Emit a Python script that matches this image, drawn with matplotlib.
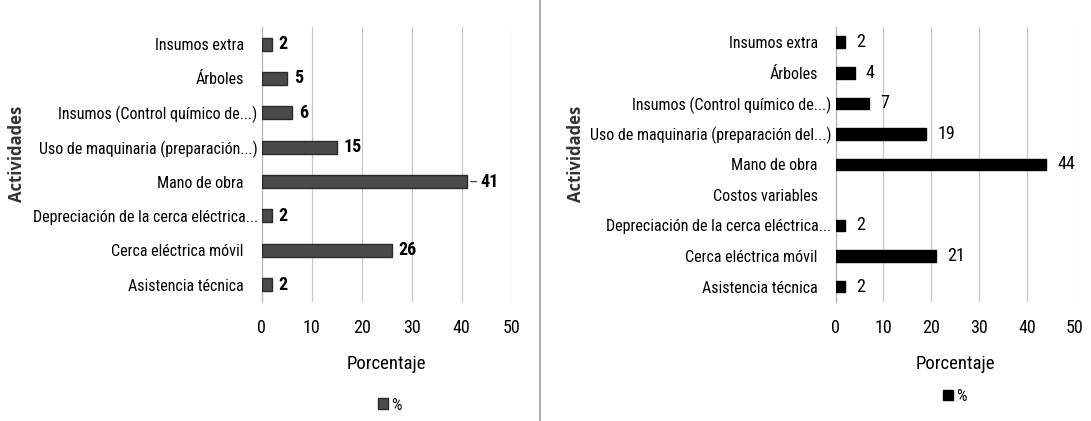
import matplotlib.pyplot as plt
from matplotlib.lines import Line2D

NARROW = ['Roboto Condensed', 'DejaVu Sans']
plt.rcParams['font.family'] = NARROW

# left chart (top to bottom)
cats_a = ['Insumos extra', 'Árboles', 'Insumos (Control químico de...)',
          'Uso de maquinaria (preparación...)', 'Mano de obra',
          'Depreciación de la cerca eléctrica...', 'Cerca eléctrica móvil',
          'Asistencia técnica']
vals_a = [2, 5, 6, 15, 41, 2, 26, 2]

# right chart (top to bottom), "Costos variables" has no bar
cats_b = ['Insumos extra', 'Árboles', 'Insumos (Control químico de...)',
          'Uso de maquinaria (preparación del...)', 'Mano de obra',
          'Costos variables', 'Depreciación de la cerca eléctrica...',
          'Cerca eléctrica móvil', 'Asistencia técnica']
vals_b = [2, 4, 7, 19, 44, None, 2, 21, 2]

xticks = [0, 10, 20, 30, 40, 50]

fig = plt.figure(figsize=(10.91, 4.21), dpi=100)
ax1 = fig.add_axes([0.240, 0.283, 0.229, 0.653])
ax2 = fig.add_axes([0.766, 0.283, 0.219, 0.653])


def draw(ax, cats, vals, color, edge, bold, off, legend_xy, lab_x):
    ys = [i for i, v in enumerate(vals) if v is not None]
    xs = [v for v in vals if v is not None]
    bars = ax.barh(ys, xs, height=0.38, color=color, edgecolor=edge,
                   linewidth=1.0, label='%', zorder=3)
    vmax = max(xs)
    for y, v in zip(ys, xs):
        kw = dict(textcoords='offset points', va='center', ha='left',
                  fontsize=13, fontweight='bold' if bold else 'normal')
        if bold and v == vmax:
            # leader line like the original
            ax.annotate(str(v), (v, y), xytext=(10, 0),
                        arrowprops=dict(arrowstyle='-', color='#404040',
                                        shrinkA=1, shrinkB=3, lw=0.9), **kw)
        else:
            ax.annotate(str(v), (v, y), xytext=(off, 0), **kw)
    ax.set_yticks(range(len(cats)))
    ax.set_yticklabels(cats, fontsize=11.5)
    ax.set_ylim(len(cats) - 0.5, -0.5)
    ax.set_xlim(0, 50)
    ax.set_xticks(xticks)
    ax.tick_params(axis='both', length=0)
    ax.tick_params(axis='x', labelsize=13, pad=12)
    ax.tick_params(axis='y', pad=3)
    # short labels sit a bit further from the axis
    for tick, c in zip(ax.yaxis.get_major_ticks(), cats):
        if not c.endswith(('...', '...)')):
            tick.set_pad(13)
    ax.grid(axis='x', color='#c8c8c8', linewidth=0.9, zorder=0)
    for s in ['top', 'right', 'bottom']:
        ax.spines[s].set_visible(False)
    ax.spines['left'].set_color('#b0b0b0')
    ax.set_xlabel('Porcentaje', fontsize=13.5, labelpad=13)
    ax.set_ylabel('Actividades', fontsize=12, fontweight='bold', color='#333333',
                  family=['Open Sans', 'DejaVu Sans'])
    ax.yaxis.set_label_coords(lab_x, 0.54)
    ax.legend(handles=[bars], loc='center', bbox_to_anchor=legend_xy,
              bbox_transform=fig.transFigure, frameon=False, fontsize=12,
              handlelength=0.6, handleheight=0.6, handletextpad=0.2)


draw(ax1, cats_a, vals_a, '#4a4a4a', '#2a2a2a', True, 5, (0.357, 0.038), -0.945)
draw(ax2, cats_b, vals_b, '#000000', '#000000', False, 8, (0.875, 0.058), -1.05)

fig.add_artist(Line2D([0.495, 0.495], [0.0, 1.0], color='#a0a0a0', linewidth=1.2))

fig.savefig('out.png', dpi=100)
